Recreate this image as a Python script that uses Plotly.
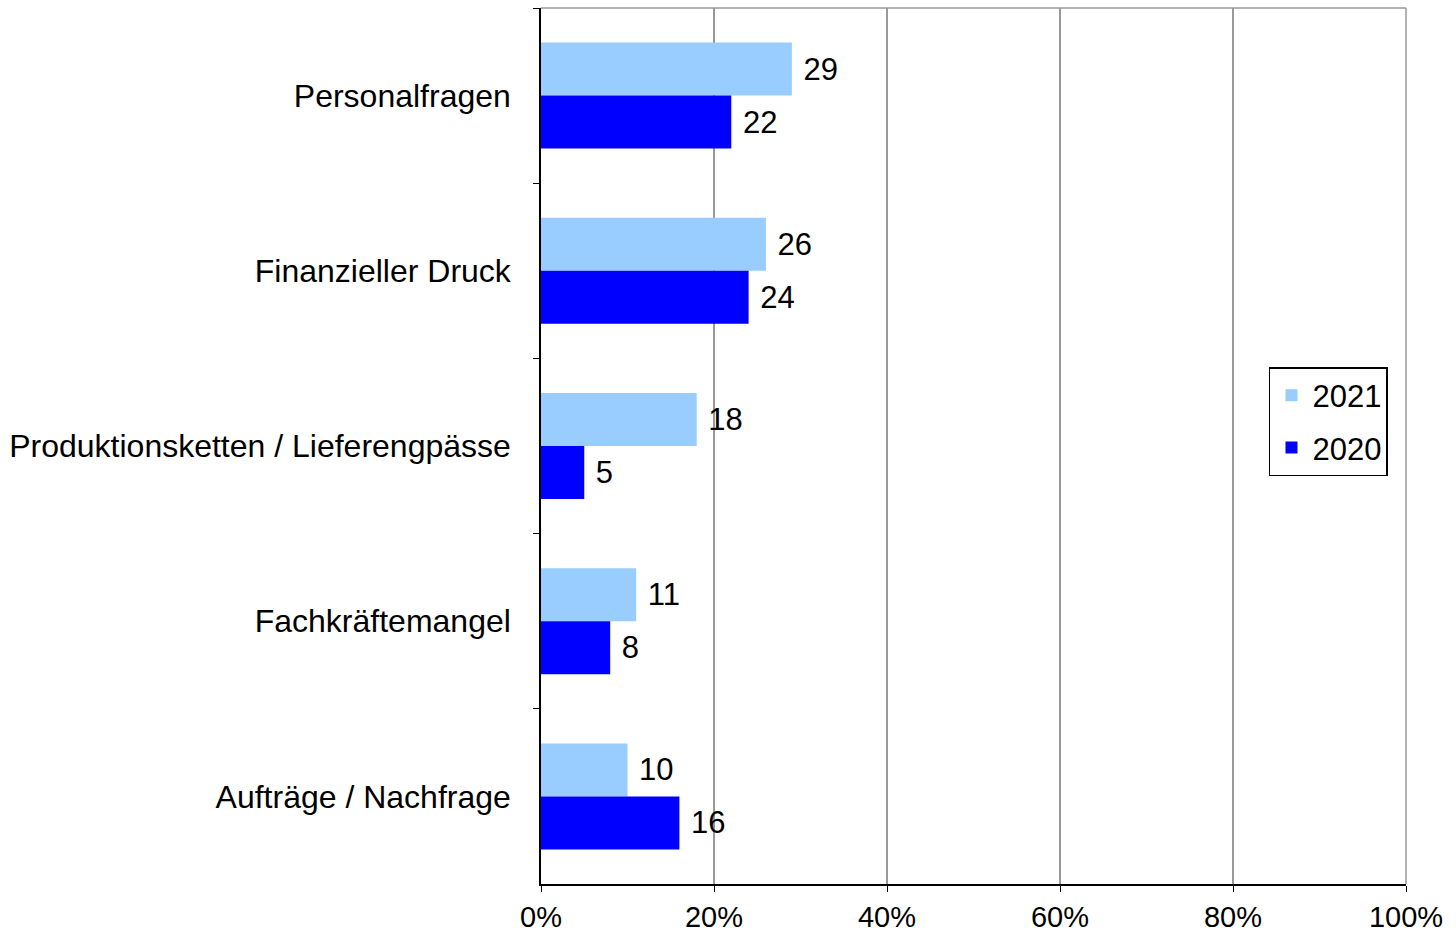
import plotly.graph_objects as go

categories = [
    "Personalfragen",
    "Finanzieller Druck",
    "Produktionsketten / Lieferengpässe",
    "Fachkräftemangel",
    "Aufträge / Nachfrage",
]
values_2021 = [29, 26, 18, 11, 10]
values_2020 = [22, 24, 5, 8, 16]
x_ticks = [0, 20, 40, 60, 80, 100]

FONT = "Liberation Sans, Arial, sans-serif"

fig = go.Figure()
for name, vals, color in [("2021", values_2021, "#99CCFF"), ("2020", values_2020, "#0000FF")]:
    fig.add_trace(go.Bar(
        y=categories, x=vals, name=name, orientation="h",
        marker=dict(color=color, line=dict(width=0)),
        text=[" " + str(v) for v in vals], textposition="outside",
        textfont=dict(size=31, color="#000000", family=FONT),
        cliponaxis=False, legendgroup=name,
    ))

fig.update_layout(
    width=1456, height=933,
    barmode="group", bargap=0.395, bargroupgap=0,
    plot_bgcolor="white", paper_bgcolor="white",
    font=dict(family=FONT, size=31, color="#000000"),
    margin=dict(l=541, r=50, t=8, b=49),
    legend=dict(
        x=0.8416, y=0.590, xanchor="left", yanchor="top",
        bordercolor="#000000", borderwidth=1.5, bgcolor="white",
        font=dict(size=31), tracegroupgap=9, itemwidth=32,
    ),
    uniformtext=dict(mode=False),
)
fig.update_xaxes(
    range=[0, 100], tickvals=x_ticks, ticktext=[f"{t}%" for t in x_ticks],
    showgrid=True, gridcolor="#999999", gridwidth=1.5,
    showline=True, linecolor="#000000", linewidth=1.5,
    ticks="outside", ticklen=6, tickcolor="#000000",
    zeroline=False, tickfont=dict(size=29), automargin=False,
)
fig.update_yaxes(
    autorange="reversed", showgrid=False,
    showline=True, linecolor="#000000", linewidth=1.5,
    ticks="outside", ticklen=6, tickcolor="#000000", tickson="boundaries",
    ticklabelstandoff=22, tickfont=dict(size=32), automargin=False,
)
# grey frame at top and right
fig.add_shape(type="line", xref="x domain", yref="y domain", x0=0, x1=1, y0=1, y1=1,
              line=dict(color="#999999", width=1.5))
fig.add_shape(type="line", xref="x domain", yref="y domain", x0=1, x1=1, y0=0, y1=1,
              line=dict(color="#999999", width=1.5))

# page body has a default 8px margin; drop it so the figure fills the window
fig.write_html("out.html", config={"displayModeBar": False},
               post_script="document.body.style.margin='0';")
